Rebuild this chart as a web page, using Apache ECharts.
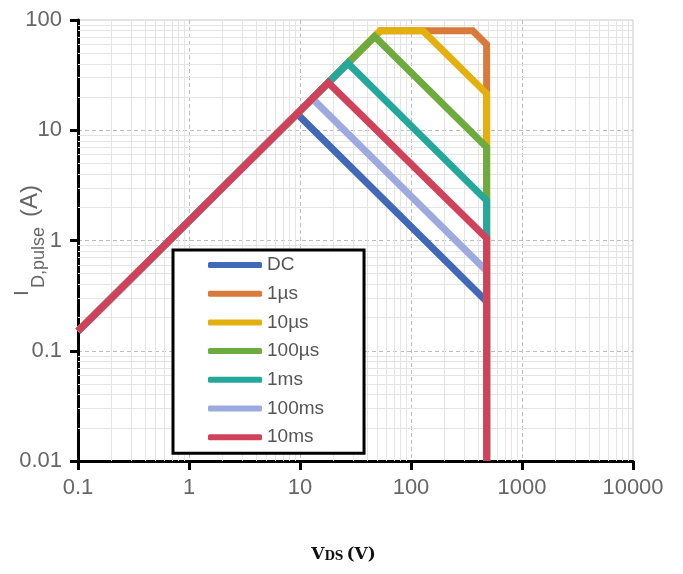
<!DOCTYPE html>
<html>
<head>
<meta charset="utf-8">
<script src="https://cdn.jsdelivr.net/npm/echarts@6/dist/echarts.min.js"></script>
<style>
html,body{margin:0;padding:0;background:#fff;}
#chart{width:683px;height:574px;}
</style>
</head>
<body>
<div id="chart"></div>
<script>
// ---- Data ----
var seriesNames = ['DC', '1µs', '10µs', '100µs', '1ms', '100ms', '10ms'];
var seriesColors = ['#4169B8', '#D97A3A', '#E3B00E', '#6EAB3E', '#24A89B', '#9DAADF', '#D0425A'];

var dcV    = [0.1, 9.4, 480, 480];
var dcI    = [0.15, 14.1, 0.28, 0.01];
var us1V   = [0.1, 53, 360, 480, 480];
var us1I   = [0.15, 80, 80, 60, 0.01];
var us10V  = [0.1, 53, 128, 480, 480];
var us10I  = [0.15, 80, 80, 21.5, 0.01];
var us100V = [0.1, 47, 480, 480];
var us100I = [0.15, 71, 7.0, 0.01];
var ms1V   = [0.1, 27, 480, 480];
var ms1I   = [0.15, 40.5, 2.3, 0.01];
var ms100V = [0.1, 12.9, 480, 480];
var ms100I = [0.15, 19.4, 0.53, 0.01];
var ms10V  = [0.1, 18, 480, 480];
var ms10I  = [0.15, 27, 1.05, 0.01];

var xTickLabels = ['0.1', '1', '10', '100', '1000', '10000'];
var yTickLabels = ['0.01', '0.1', '1', '10', '100'];

var allV = [dcV, us1V, us10V, us100V, ms1V, ms100V, ms10V];
var allI = [dcI, us1I, us10I, us100I, ms1I, ms100I, ms10I];

function zip(a, b) { return a.map(function (v, i) { return [v, b[i]]; }); }

// minor grid values (2..9 in each decade)
var xMinor = [], yMinor = [];
for (var d = -1; d < 4; d++) for (var k = 2; k <= 9; k++) xMinor.push(k * Math.pow(10, d));
for (var d2 = -2; d2 < 2; d2++) for (var k2 = 2; k2 <= 9; k2++) yMinor.push(k2 * Math.pow(10, d2));

var minorLines = xMinor.map(function (v) { return { xAxis: v }; })
  .concat(yMinor.map(function (v) { return { yAxis: v }; }));

var series = [{
  name: 'grid-minor',
  type: 'line',
  data: [],
  z: 1,
  silent: true,
  markLine: {
    silent: true,
    z: 1,
    symbol: 'none',
    label: { show: false },
    animation: false,
    lineStyle: { color: '#e4e4e4', width: 1, type: 'solid' },
    data: minorLines
  }
}];
seriesNames.forEach(function (n, i) {
  series.push({
    name: n,
    type: 'line',
    data: zip(allV[i], allI[i]),
    symbol: 'none',
    z: 2,
    lineStyle: { width: 7, color: seriesColors[i], join: 'miter' },
    itemStyle: { color: seriesColors[i] },
    animation: false
  });
});

function logLabel(arr, offset) {
  return function (v) { return arr[Math.round(Math.log10(v)) + offset] || ''; };
}

var chart = echarts.init(document.getElementById('chart'), null, { renderer: 'canvas' });
chart.setOption({
  backgroundColor: '#ffffff',
  animation: false,
  grid: {
    left: 78, right: 50, top: 20, bottom: 113,
    outerBoundsMode: 'none',
    containLabel: false,
    show: true, borderColor: '#c8c8c8', borderWidth: 1, backgroundColor: 'transparent'
  },
  legend: {
    data: seriesNames,
    orient: 'vertical',
    left: 173, top: 250,
    z: 10,
    padding: [5, 40, 6, 35],
    backgroundColor: '#fff',
    borderColor: '#000',
    borderWidth: 3,
    borderRadius: 0,
    icon: 'roundRect',
    itemWidth: 54,
    itemHeight: 6,
    itemGap: 8.7,
    textStyle: { fontFamily: 'Liberation Sans', fontSize: 19, color: '#555', lineHeight: 20, padding: [0, 0, 0, 0] }
  },
  xAxis: {
    type: 'log', logBase: 10, min: 0.1, max: 10000,
    name: '{v|V}{ds|DS}{v|(V)}',
    nameLocation: 'middle',
    nameGap: 82,
    nameTextStyle: {
      padding: [0, 24, 0, 0],
      rich: {
        v: { fontFamily: 'DejaVu Serif', fontWeight: 'bold', fontSize: 17, color: '#111', verticalAlign: 'bottom', lineHeight: 20 },
        ds: { fontFamily: 'DejaVu Serif', fontWeight: 'bold', fontSize: 12, color: '#111', verticalAlign: 'bottom', lineHeight: 18, padding: [0, 3, 0, 0] }
      }
    },
    axisLine: { show: true, onZero: false, lineStyle: { color: '#000', width: 3 } },
    axisTick: { show: true, length: 9, lineStyle: { color: '#000', width: 3 } },
    axisLabel: {
      formatter: logLabel(xTickLabels, 1),
      fontFamily: 'Liberation Sans', fontSize: 22, color: '#666', margin: 16
    },
    splitLine: { show: true, showMaxLine: false, lineStyle: { color: '#bdbdbd', width: 1, type: [4, 3] } },
    minorTick: { show: false },
    minorSplitLine: { show: false }
  },
  yAxis: {
    type: 'log', logBase: 10, min: 0.01, max: 100,
    name: '{i|I}{sub|D,pulse  }{a|(A)}',
    nameLocation: 'middle',
    nameGap: 30,
    nameMoveOverlap: false,
    nameRotate: 90,
    nameTextStyle: {
      rich: {
        i: { fontFamily: 'Liberation Sans', fontSize: 21, color: '#666', verticalAlign: 'top', lineHeight: 36 },
        sub: { fontFamily: 'Liberation Sans', fontSize: 18, color: '#666', verticalAlign: 'bottom', lineHeight: 36, padding: [0, 0, 0, 2] },
        a: { fontFamily: 'Liberation Sans', fontSize: 24, color: '#666', verticalAlign: 'middle', lineHeight: 36 }
      }
    },
    axisLine: { show: true, onZero: false, lineStyle: { color: '#000', width: 3 } },
    axisTick: { show: true, length: 8, lineStyle: { color: '#000', width: 3 } },
    axisLabel: {
      formatter: logLabel(yTickLabels, 2),
      fontFamily: 'Liberation Sans', fontSize: 22, color: '#666', margin: 16
    },
    splitLine: { show: true, showMaxLine: false, lineStyle: { color: '#bdbdbd', width: 1, type: [4, 3] } },
    minorTick: { show: false },
    minorSplitLine: { show: false }
  },
  series: series
});
</script>
</body>
</html>
